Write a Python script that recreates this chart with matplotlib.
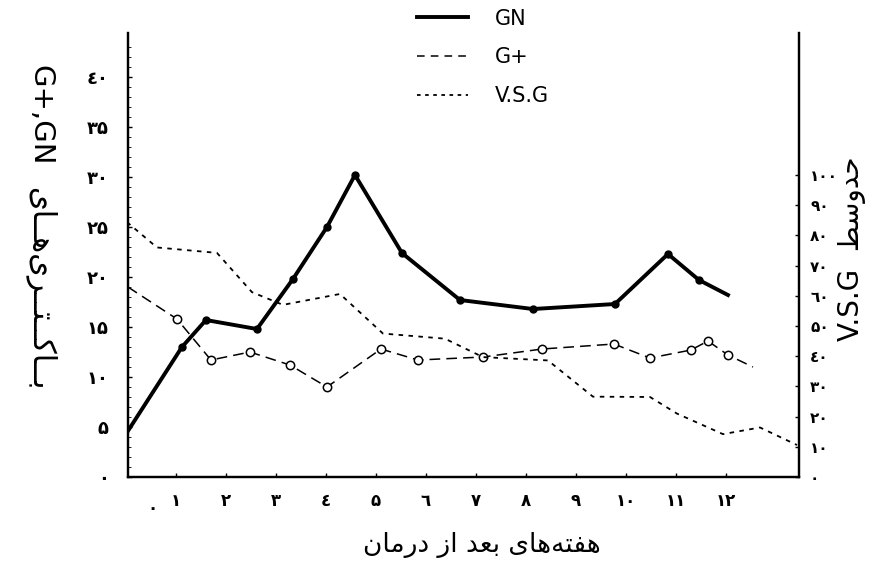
import matplotlib.pyplot as plt
import matplotlib.lines as mlines

# digits as printed in the scan (arabic-indic, persian five)
fa = {'0': '\u0660', '1': '\u0661', '2': '\u0662', '3': '\u0663', '4': '\u0664',
      '5': '\u06F5', '6': '\u0666', '7': '\u0667', '8': '\u0668', '9': '\u0669'}

def fa_num(n):
    return ''.join(fa[c] for c in str(n))

# pre-shaped persian strings (presentation forms, visual order, kashida for the hand lettering)
K = '\u0640'
xlabel_fa = '\uFEE5\uFE8E\uFEE3\uFEAD\uFEA9 \uFEAF\uFE8D \uFEAA\uFECC\uFE91 \uFEEF\uFE8E\uFEEB\uFEEA\uFE98\uFED4\uFEEB'
ylabel_left_fa = ('\uFEEF\uFE8E' + K + K + '\uFEEB\uFEEF\uFEAE' + K + K + '\uFE98'
                  + K + K + '\uFEDB\uFE8E' + K + K + '\uFE91')
ylabel_left_en = 'G+,GN'
ylabel_right = 'V.S.G  \uFEC2\uFEB3\uFEED\uFEAA\uFEA3'

# data (weeks after treatment)
gn_weeks = [0, 1.12, 1.6, 2.62, 3.34, 4.02, 4.58, 5.52, 6.68, 8.14, 9.78, 10.84, 11.46, 12.04]
gn_vals = [4.3, 13.0, 15.7, 14.8, 19.8, 25.0, 30.2, 22.4, 17.7, 16.8, 17.3, 22.3, 19.7, 18.2]

gp_weeks = [0.04, 1.02, 1.7, 2.48, 3.28, 4.02, 5.1, 5.84, 7.14, 8.32, 9.76, 10.48, 11.3, 11.64, 12.04, 12.54]
gp_vals = [19.0, 15.8, 11.7, 12.5, 11.2, 9.0, 12.8, 11.7, 12.0, 12.8, 13.3, 11.9, 12.7, 13.6, 12.2, 11.0]

vsg_weeks = [0.02, 0.62, 1.82, 2.52, 3.14, 4.28, 5.14, 6.38, 7.14, 8.44, 9.34, 10.48, 11.02, 11.94, 12.68, 13.42]
vsg_vals = [84.4, 76.0, 74.2, 61.2, 57.0, 60.6, 47.5, 45.8, 39.7, 38.6, 26.6, 26.5, 21.0, 14.2, 16.4, 10.6]

left_ticks = list(range(0, 41, 5))
right_ticks = list(range(0, 101, 10))
week_ticks = list(range(1, 13))

plt.rcParams['font.family'] = ['DejaVu Sans']

fig = plt.figure(figsize=(8.93, 5.78), dpi=100)
ax = fig.add_axes([0.1433, 0.1747, 0.7514, 0.7682])
ax2 = ax.twinx()

ax.plot(gn_weeks, gn_vals, color='black', lw=2.8, marker='o', ms=5,
        markevery=list(range(1, len(gn_weeks) - 1)), solid_joinstyle='round')
ax.plot(gp_weeks, gp_vals, color='black', lw=1.1, dashes=(7, 4), marker='o', ms=6,
        mfc='white', mec='black', mew=1.1, markevery=list(range(1, len(gp_weeks) - 1)))
ax2.plot(vsg_weeks, vsg_vals, color='black', lw=1.3, dashes=(2.5, 3))

ax.set_xlim(0.04, 13.46)
ax.set_ylim(0, 44.4)
ax2.set_ylim(0, 147)

for a in (ax, ax2):
    a.spines['top'].set_visible(False)
    for s in a.spines.values():
        s.set_linewidth(1.6)

ax.set_yticks(left_ticks)
ax.set_yticklabels([fa_num(v) for v in left_ticks], fontsize=13, fontweight='bold')
ax.set_yticks(range(0, 44), minor=True)
ax.tick_params(axis='y', which='major', direction='in', length=3, width=1, pad=14)
ax.tick_params(axis='y', which='minor', direction='in', length=2, width=0.6)

ax2.set_yticks(right_ticks)
ax2.set_yticklabels([fa_num(v) for v in right_ticks], fontsize=11, fontweight='bold')
ax2.tick_params(axis='y', direction='in', length=3, width=1, pad=8)

ax.set_xticks(week_ticks)
ax.set_xticklabels([fa_num(v) for v in week_ticks], fontsize=12, fontweight='bold')
ax.tick_params(axis='x', direction='in', length=3, width=1, pad=11)
ax.text(0.52, -0.05, fa_num(0), transform=ax.get_xaxis_transform(), ha='center',
        va='top', fontsize=12, fontweight='bold')

# left label: latin part above, persian part below (rotated, read top to bottom)
fig.text(0.045, 0.80, ylabel_left_en, rotation=-90, ha='center', va='center', fontsize=21)
fig.text(0.045, 0.50, ylabel_left_fa, rotation=-90, ha='center', va='center', fontsize=22)
fig.text(0.954, 0.57, ylabel_right, rotation=90, ha='center', va='center', fontsize=20)
fig.text(0.54, 0.057, xlabel_fa, ha='center', va='center', fontsize=19)

handles = [mlines.Line2D([], [], color='black', lw=2.8),
           mlines.Line2D([], [], color='black', lw=1.1, dashes=(5, 4)),
           mlines.Line2D([], [], color='black', lw=1.3, dashes=(2, 2.5))]
fig.legend(handles, ['GN', 'G+', 'V.S.G'], loc='upper left', bbox_to_anchor=(0.467, 0.985),
           frameon=False, fontsize=15, handlelength=2.45, handletextpad=1.3,
           labelspacing=0.9, borderpad=0, borderaxespad=0)

fig.savefig('out.png', dpi=100)
